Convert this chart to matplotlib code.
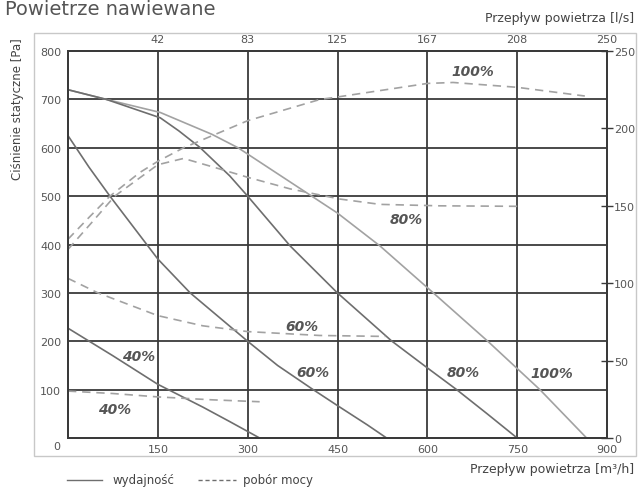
import matplotlib
matplotlib.use("Agg")
import matplotlib.pyplot as plt
from matplotlib.lines import Line2D
from matplotlib.patches import Rectangle

# wydajnosc (solid) - flow [m3/h] vs static pressure [Pa]
perf_100_x = [0, 64, 154, 240, 284, 300, 407, 450, 521, 610, 701, 788, 866]
perf_100_y = [720, 700, 673, 628, 600, 587, 500, 465, 397, 300, 200, 100, 0]
perf_80_x = [0, 64, 154, 185, 220, 270, 300, 371, 449, 540, 600, 649, 700, 750]
perf_80_y = [720, 700, 662, 635, 601, 542, 500, 397, 301, 201, 145, 100, 50, 0]
perf_60_x = [0, 35, 70, 150, 204, 300, 350, 407, 450, 500, 532]
perf_60_y = [625, 560, 500, 370, 300, 200, 150, 102, 67, 27, 0]
perf_40_x = [0, 75, 150, 225, 270, 320]
perf_40_y = [227, 170, 111, 64, 34, 0]

# pobor mocy (dashed) - drawn on the Pa scale (250 W = 800 Pa)
pow_100_x = [0, 35, 70, 120, 150, 193, 300, 421, 450, 600, 643, 750, 863]
pow_100_y = [411, 456, 500, 549, 572, 600, 656, 700, 705, 733, 735, 725, 707]
pow_80_x = [0, 40, 78, 120, 150, 193, 254, 300, 371, 454, 521, 621, 750]
pow_80_y = [390, 446, 500, 538, 565, 578, 556, 539, 515, 494, 483, 480, 479]
pow_60_x = [0, 50, 150, 225, 300, 420, 530]
pow_60_y = [330, 300, 253, 232, 220, 212, 210]
pow_40_x = [0, 75, 150, 240, 320]
pow_40_y = [97, 92, 85, 79, 75]

x_ticks = [150, 300, 450, 600, 750, 900]
top_labels = ["42", "83", "125", "167", "208", "250"]
y_ticks = [100, 200, 300, 400, 500, 600, 700, 800]
w_ticks = [0, 50, 100, 150, 200, 250]

# curve labels: (text, x, y)
labels = [("100%", 676, 758), ("80%", 564, 452), ("60%", 390, 231),
          ("40%", 78, 60), ("40%", 117, 170), ("60%", 409, 137),
          ("80%", 660, 137), ("100%", 808, 134)]

grid_c = "#3a3a3a"
txt_c = "#555555"

fig = plt.figure(figsize=(6.38, 4.89), dpi=100)
fig.patches.append(Rectangle((0.0533, 0.0654), 0.9436, 0.8651, transform=fig.transFigure,
                             fill=False, edgecolor="#c8c8c8", lw=1))

ax = fig.add_axes([0.1066, 0.1022, 0.8448, 0.7914])
ax.set_xlim(0, 900)
ax.set_ylim(0, 800)
ax.set_xticks(x_ticks)
ax.set_yticks(y_ticks)
ax.grid(True, color=grid_c, lw=1.3)
ax.tick_params(length=0, labelsize=8, labelcolor=txt_c)
ax.tick_params(axis="y", pad=5)
ax.tick_params(axis="x", pad=4)
for s in ax.spines.values():
    s.set_color(grid_c)
    s.set_linewidth(1.3)

solid_dark = "#6e6e6e"
solid_light = "#a2a2a2"
dash_c = "#a2a2a2"
dash = (0, (5, 3.5))

ax.plot(perf_100_x, perf_100_y, color=solid_light, lw=1.2)
ax.plot(perf_80_x, perf_80_y, color=solid_dark, lw=1.2)
ax.plot(perf_60_x, perf_60_y, color=solid_dark, lw=1.2)
ax.plot(perf_40_x, perf_40_y, color=solid_dark, lw=1.2)
ax.plot(pow_100_x, pow_100_y, color=dash_c, lw=1.2, ls=dash)
ax.plot(pow_80_x, pow_80_y, color=dash_c, lw=1.2, ls=dash)
ax.plot(pow_60_x, pow_60_y, color=dash_c, lw=1.2, ls=dash)
ax.plot(pow_40_x, pow_40_y, color=dash_c, lw=1.2, ls=dash)

for t, x, y in labels:
    ax.text(x, y, t, ha="center", va="center", fontsize=10, fontweight="bold",
            fontstyle="italic", color=txt_c)

axr = ax.twinx()
axr.set_ylim(0, 250)
axr.set_yticks(w_ticks)
axr.tick_params(direction="inout", length=8, width=1, color=grid_c,
                labelcolor=txt_c, labelsize=8, pad=1)
for s in axr.spines.values():
    s.set_color(grid_c)
    s.set_linewidth(1.3)

axt = ax.twiny()
axt.set_xlim(0, 900)
axt.set_xticks(x_ticks)
axt.set_xticklabels(top_labels)
axt.tick_params(length=0, labelsize=8, labelcolor=txt_c, pad=5)
for s in axt.spines.values():
    s.set_color(grid_c)
    s.set_linewidth(1.3)

fig.text(0.0893, 0.0859, "0", ha="center", va="center", fontsize=8, color=txt_c)
fig.text(0.008, 0.9693, "Powietrze nawiewane", ha="left", va="baseline",
         fontsize=14, color=txt_c)
fig.text(0.0282, 0.922, "Ciśnienie statyczne [Pa]", rotation=90, ha="center", va="top",
         fontsize=8.5, color="#444444")
fig.text(0.994, 0.963, "Przepływ powietrza [l/s]", ha="right", va="center",
         fontsize=9, color="#444444")
fig.text(0.994, 0.039, "Przepływ powietrza [m³/h]", ha="right", va="center",
         fontsize=9, color="#444444")

# legend drawn by hand under the plot
fig.add_artist(Line2D([0.105, 0.160], [0.0164, 0.0164], transform=fig.transFigure,
                      color=solid_dark, lw=1))
fig.text(0.176, 0.0164, "wydajność", ha="left", va="center", fontsize=8.5, color="#444444")
fig.add_artist(Line2D([0.310, 0.370], [0.0164, 0.0164], transform=fig.transFigure,
                      color=solid_dark, lw=1, ls=(0, (3, 2))))
fig.text(0.381, 0.0164, "pobór mocy", ha="left", va="center", fontsize=8.5, color="#444444")

fig.savefig("out.png", dpi=100)
